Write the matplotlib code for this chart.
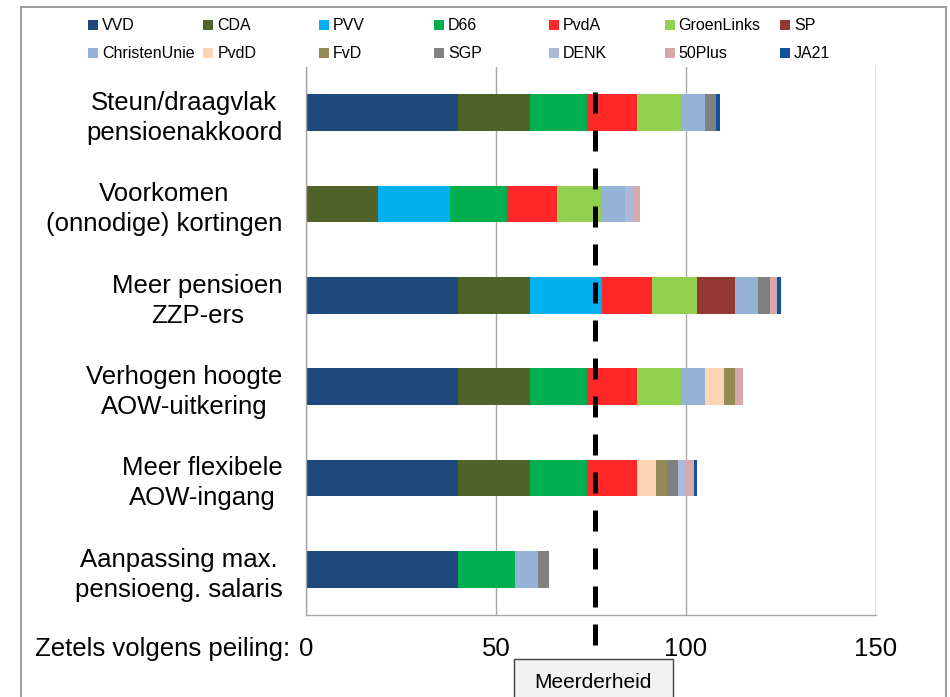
import matplotlib
matplotlib.use("Agg")
import matplotlib.pyplot as plt
import numpy as np
from matplotlib.patches import Rectangle

plt.rcParams["font.family"] = ["Liberation Sans", "DejaVu Sans"]

categories = [
    "Steun/draagvlak\npensioenakkoord",
    "Voorkomen\n(onnodige) kortingen",
    "Meer pensioen\nZZP-ers",
    "Verhogen hoogte\nAOW-uitkering",
    "Meer flexibele\nAOW-ingang",
    "Aanpassing max.\npensioeng. salaris",
]

parties = ["VVD", "CDA", "PVV", "D66", "PvdA", "GroenLinks", "SP",
           "ChristenUnie", "PvdD", "FvD", "SGP", "DENK", "50Plus", "JA21"]
colors = ["#1F497D", "#4F6228", "#00B0F0", "#00B050", "#FF2828", "#92D050", "#953735",
          "#95B3D7", "#FCD5B5", "#948A54", "#808080", "#ADB9D8", "#D9A9A9", "#10529E"]

# seats per party, one value per category (top to bottom)
vvd = [40, 0, 40, 40, 40, 40]
cda = [19, 19, 19, 19, 19, 0]
pvv = [0, 19, 19, 0, 0, 0]
d66 = [15, 15, 0, 15, 15, 15]
pvda = [13, 13, 13, 13, 13, 0]
groenlinks = [12, 12, 12, 12, 0, 0]
sp = [0, 0, 10, 0, 0, 0]
christenunie = [6, 6, 6, 6, 0, 6]
pvdd = [0, 0, 0, 5, 5, 0]
fvd = [0, 0, 0, 3, 3, 0]
sgp = [3, 0, 3, 0, 3, 3]
denk = [0, 2, 0, 0, 2, 0]
plus50 = [0, 2, 2, 2, 2, 0]
ja21 = [1, 0, 1, 0, 1, 0]
seats = [vvd, cda, pvv, d66, pvda, groenlinks, sp,
         christenunie, pvdd, fvd, sgp, denk, plus50, ja21]

xticks = [0, 50, 100, 150]
majority = 76

W, H = 950, 697
fig = plt.figure(figsize=(W / 100, H / 100), dpi=100)
ax = fig.add_axes([306 / W, 1 - 615 / H, 570 / W, 548 / H])

y = np.arange(len(categories))
left = np.zeros(len(categories))
for name, vals, col in zip(parties, seats, colors):
    vals = np.array(vals, dtype=float)
    ax.barh(y, vals, left=left, height=0.4, color=col, label=name, zorder=2)
    left += vals

ax.set_xlim(0, 150)
ax.set_ylim(len(categories) - 0.5, -0.5)
ax.set_yticks(y)
ax.set_yticklabels(categories, fontsize=18.5, ha="right", multialignment="center",
                   linespacing=1.3)
ax.set_xticks(xticks)
ax.set_xticklabels([str(t) for t in xticks], fontsize=18.5)
ax.tick_params(axis="y", length=0, pad=17)
ax.tick_params(axis="x", length=0, pad=16)

grid_col = "#A6A6A6"
ax.grid(axis="x", color=grid_col, linewidth=1, zorder=0)
ax.set_axisbelow(True)
for s in ["top", "right"]:
    ax.spines[s].set_visible(False)
for s in ["left", "bottom"]:
    ax.spines[s].set_color(grid_col)
    ax.spines[s].set_linewidth(1)
ax.axvline(150, color=grid_col, linewidth=1, zorder=0)

# majority line
ax.plot([majority, majority], [0.954, -0.069], transform=ax.get_xaxis_transform(),
        color="black", linewidth=3.6, linestyle=(0, (4.2, 3.4)), clip_on=False,
        zorder=5, solid_capstyle="butt", dash_capstyle="butt")

fig.text(290 / W, 1 - 649 / H, "Zetels volgens peiling:", fontsize=18.5,
         ha="right", va="center")

# Meerderheid box
fig.patches.append(Rectangle((514 / W, -0.02), 159 / W, 0.02 + (697 - 659) / H,
                             transform=fig.transFigure, facecolor="#F2F2F2",
                             edgecolor="#404040", linewidth=1))
fig.text(593 / W, 1 - 682 / H, "Meerderheid", fontsize=15, ha="center", va="center")

# outer frame
fig.patches.append(Rectangle((21 / W, -0.02), 925 / W, 0.02 + (697 - 7) / H,
                             transform=fig.transFigure, facecolor="none",
                             edgecolor="#8C8C8C", linewidth=1.2, zorder=0))

# legend, two rows of seven
for i, (name, col) in enumerate(zip(parties, colors)):
    r, c = divmod(i, 7)
    x0 = 88 + 115.3 * c
    yc = 25 + 28 * r
    fig.patches.append(Rectangle((x0 / W, 1 - (yc + 5) / H), 10 / W, 10 / H,
                                 transform=fig.transFigure, facecolor=col,
                                 edgecolor="none"))
    fig.text((x0 + 14) / W, 1 - (yc + 1) / H, name, fontsize=11.5, ha="left", va="center")

fig.savefig("out.png", dpi=100)
